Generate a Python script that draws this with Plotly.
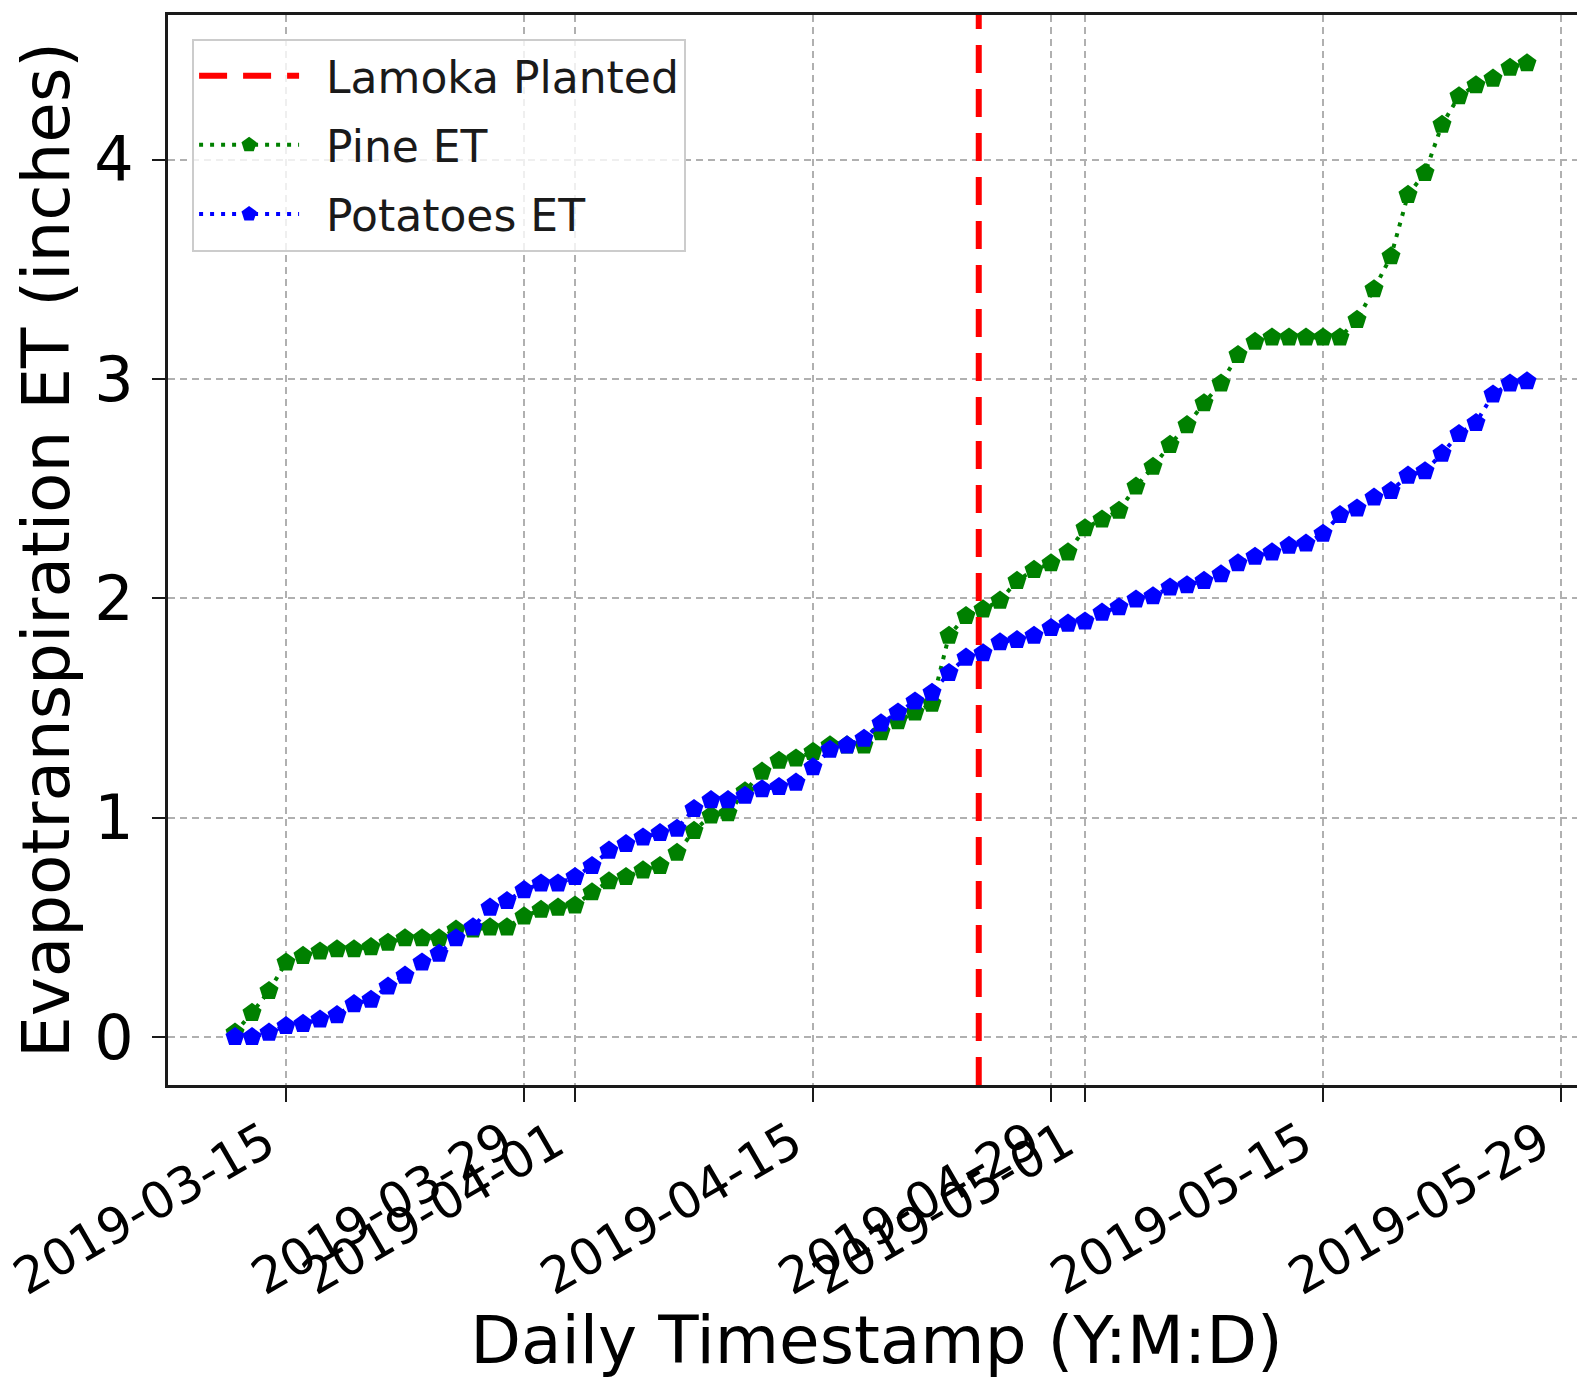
import pandas as pd
import plotly.graph_objects as go

# daily timestamps of the cumulative ET record
dates = pd.date_range("2019-03-12", "2019-05-27", freq="D")

pine_et = [
    0.02, 0.11, 0.21, 0.34, 0.37, 0.39, 0.40, 0.40, 0.41, 0.43,
    0.45, 0.45, 0.45, 0.49, 0.49, 0.50, 0.50, 0.55, 0.58, 0.59,
    0.60, 0.66, 0.71, 0.73, 0.76, 0.78, 0.84, 0.94, 1.01, 1.02,
    1.12, 1.21, 1.26, 1.27, 1.30, 1.33, 1.33, 1.33, 1.39, 1.44,
    1.48, 1.52, 1.83, 1.92, 1.95, 1.99, 2.08, 2.13, 2.16, 2.21,
    2.32, 2.36, 2.40, 2.51, 2.60, 2.70, 2.79, 2.89, 2.98, 3.11,
    3.17, 3.19, 3.19, 3.19, 3.19, 3.19, 3.27, 3.41, 3.56, 3.84,
    3.94, 4.16, 4.29, 4.34, 4.37, 4.42, 4.44,
]

potatoes_et = [
    0.00, 0.00, 0.02, 0.05, 0.06, 0.08, 0.10, 0.15, 0.17, 0.23,
    0.28, 0.34, 0.38, 0.45, 0.50, 0.59, 0.62, 0.67, 0.70, 0.70,
    0.73, 0.78, 0.85, 0.88, 0.91, 0.93, 0.95, 1.04, 1.08, 1.08,
    1.10, 1.13, 1.14, 1.16, 1.23, 1.31, 1.33, 1.36, 1.43, 1.48,
    1.53, 1.57, 1.66, 1.73, 1.75, 1.80, 1.81, 1.83, 1.865, 1.885,
    1.895, 1.935, 1.96, 1.995, 2.01, 2.05, 2.06, 2.08, 2.11, 2.16,
    2.19, 2.21, 2.24, 2.25, 2.295, 2.38, 2.41, 2.46, 2.49, 2.56,
    2.58, 2.66, 2.75, 2.80, 2.93, 2.98, 2.99,
]

plant_date = "2019-04-24 18:00"

tick_dates = ["2019-03-15", "2019-03-29", "2019-04-01", "2019-04-15",
              "2019-04-29", "2019-05-01", "2019-05-15", "2019-05-29"]
y_ticks = [0, 1, 2, 3, 4]

font_family = "DejaVu Sans"
spine_color = "#1a1a1a"
grid_color = "#b0b0b0"
et_dash = "4px,7px"
plant_dash = "28px,16px"
gap = "\u2002"  # space between legend sample and label

fig = go.Figure()

# legend entry for the planting line (line itself is a shape below)
fig.add_trace(go.Scatter(
    x=[None], y=[None], mode="lines", name=gap + "Lamoka Planted",
    legendgroup="a",
    line=dict(color="#ff0000", width=6, dash=plant_dash),
))

fig.add_trace(go.Scatter(
    x=dates, y=pine_et, mode="lines+markers", name=gap + "Pine ET",
    legendgroup="b",
    line=dict(color="#008000", width=4, dash=et_dash),
    marker=dict(symbol="pentagon", size=20, color="#008000"),
))

fig.add_trace(go.Scatter(
    x=dates, y=potatoes_et, mode="lines+markers", name=gap + "Potatoes ET",
    legendgroup="c",
    line=dict(color="#0000ff", width=4, dash=et_dash),
    marker=dict(symbol="pentagon", size=20, color="#0000ff"),
))

fig.add_vline(x=plant_date, line=dict(color="#ff0000", width=6, dash=plant_dash))

fig.update_xaxes(
    type="date",
    range=["2019-03-08 01:24", "2019-05-30 09:53"],
    tickmode="array",
    tickvals=tick_dates,
    ticktext=tick_dates,
    tickangle=-30,
    tickfont=dict(family=font_family, size=50, color="#000000"),
    ticklabelshift=-20,
    ticklabelstandoff=-8,
    ticklabeloverflow="allow",
    ticks="outside", ticklen=14, tickwidth=2, tickcolor=spine_color,
    showline=True, linewidth=3, linecolor=spine_color, mirror=True,
    showgrid=True, gridcolor=grid_color, gridwidth=1.5, griddash="7px,5px",
    zeroline=False,
    title=dict(text="Daily Timestamp (Y:M:D)",
               font=dict(family=font_family, size=66, color="#000000"),
               standoff=10),
)

fig.update_yaxes(
    range=[-0.219, 4.660],
    tickmode="array",
    tickvals=y_ticks,
    tickfont=dict(family=font_family, size=62, color="#000000"),
    ticks="outside", ticklen=13, tickwidth=2, tickcolor=spine_color,
    ticklabelstandoff=6,
    showline=True, linewidth=3, linecolor=spine_color, mirror=False,
    showgrid=True, gridcolor=grid_color, gridwidth=1.5, griddash="7px,5px",
    zeroline=False,
    title=dict(text="Evapotranspiration ET (inches)",
               font=dict(family=font_family, size=66, color="#000000"),
               standoff=8),
)

# page body adds an 8px offset, so the figure is drawn 8px smaller
fig.update_layout(
    width=1577, height=1371,
    margin=dict(l=160, r=0, t=7, b=294, autoexpand=False),
    paper_bgcolor="white",
    plot_bgcolor="white",
    font=dict(family=font_family, color="#000000"),
    showlegend=True,
    legend=dict(
        x=0.017, y=0.978, xanchor="left", yanchor="top",
        bgcolor="rgba(255,255,255,0.8)",
        bordercolor="#cccccc", borderwidth=2,
        font=dict(family=font_family, size=44, color="#1a1a1a"),
        itemwidth=100,
        traceorder="grouped",
        tracegroupgap=9,
    ),
)

fig.write_html("out.html")
